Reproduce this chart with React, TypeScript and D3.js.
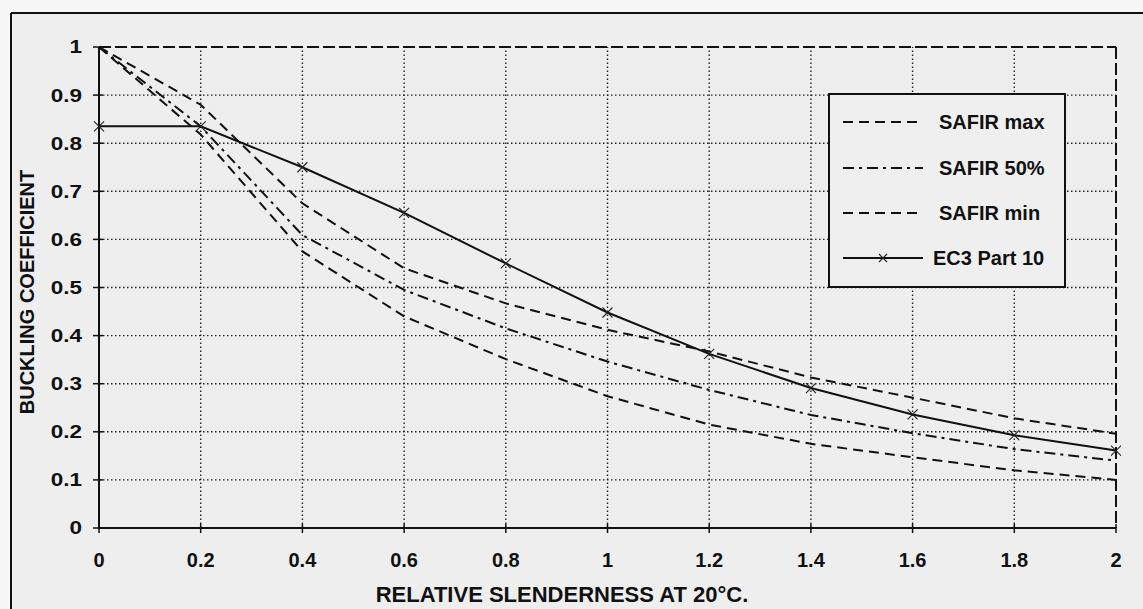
import React from "react";
import * as d3 from "d3";

const slenderness = [0, 0.2, 0.4, 0.6, 0.8, 1.0, 1.2, 1.4, 1.6, 1.8, 2.0];
const safirMax = [1.0, 0.88, 0.675, 0.54, 0.467, 0.412, 0.367, 0.313, 0.271, 0.228, 0.196];
const safir50 = [1.0, 0.835, 0.609, 0.495, 0.415, 0.346, 0.287, 0.235, 0.197, 0.164, 0.14];
const safirMin = [1.0, 0.818, 0.575, 0.44, 0.351, 0.274, 0.215, 0.175, 0.147, 0.12, 0.1];
const ec3 = [0.835, 0.835, 0.75, 0.655, 0.55, 0.448, 0.362, 0.291, 0.236, 0.193, 0.161];
const xTicks = [0, 0.2, 0.4, 0.6, 0.8, 1, 1.2, 1.4, 1.6, 1.8, 2];
const yTicks = [0, 0.1, 0.2, 0.3, 0.4, 0.5, 0.6, 0.7, 0.8, 0.9, 1];
const legendLabels = ["SAFIR max", "SAFIR 50%", "SAFIR min", "EC3 Part 10"];

const W = 1143;
const H = 609;
const FONT = "'Liberation Sans', Arial, sans-serif";

export default function App() {
  const x = d3.scaleLinear().domain([0, 2]).range([99, 1116]);
  const y = d3.scaleLinear().domain([0, 1]).range([528, 47]);

  const line = d3
    .line<number>()
    .x((_, i) => x(slenderness[i]))
    .y((d) => y(d));

  const series = [
    { name: legendLabels[0], data: safirMax, dash: "10,6", marker: false },
    { name: legendLabels[1], data: safir50, dash: "11,5,3,5", marker: false },
    { name: legendLabels[2], data: safirMin, dash: "10,6", marker: false },
    { name: legendLabels[3], data: ec3, dash: "none", marker: true },
  ];

  const lgX = 829;
  const lgY = 94;
  const lgW = 236;
  const lgH = 193;
  const rowY = [122, 168, 213, 258];

  const cross = (cx: number, cy: number, s: number, key: string) => (
    <g key={key}>
      <line x1={cx - s} y1={cy - s} x2={cx + s} y2={cy + s} stroke="#222" strokeWidth={1.1} />
      <line x1={cx - s} y1={cy + s} x2={cx + s} y2={cy - s} stroke="#222" strokeWidth={1.1} />
    </g>
  );

  return (
    <svg
      width={W}
      height={H}
      style={{ position: "absolute", left: 0, top: 0, display: "block" }}
      fontFamily={FONT}
    >
      <rect x={0} y={0} width={W} height={H} fill="#f7f7f7" />
      <rect x={11} y={13} width={W - 11} height={H - 13} fill="#eeeeee" />
      <line x1={11} y1={13} x2={W} y2={13} stroke="#111" strokeWidth={2} />
      <line x1={11} y1={13} x2={11} y2={H} stroke="#111" strokeWidth={2} />

      {/* gridlines */}
      {yTicks.slice(1, -1).map((t) => (
        <line
          key={"gy" + t}
          x1={x(0)}
          x2={x(2)}
          y1={y(t)}
          y2={y(t)}
          stroke="#222"
          strokeWidth={1.4}
          strokeDasharray="1.5,2.5"
        />
      ))}
      {xTicks.slice(1, -1).map((t) => (
        <line
          key={"gx" + t}
          x1={x(t)}
          x2={x(t)}
          y1={y(0)}
          y2={y(1)}
          stroke="#222"
          strokeWidth={1.4}
          strokeDasharray="1.5,2.5"
        />
      ))}

      {/* plot border: top and right dashed */}
      <line x1={x(0)} x2={x(2)} y1={y(1)} y2={y(1)} stroke="#111" strokeWidth={2} strokeDasharray="12,4" />
      <line x1={x(2)} x2={x(2)} y1={y(1)} y2={y(0)} stroke="#111" strokeWidth={2} strokeDasharray="12,4" />

      {/* axes */}
      <line x1={x(0)} x2={x(2)} y1={y(0)} y2={y(0)} stroke="#111" strokeWidth={2} />
      <line x1={x(0)} x2={x(0)} y1={y(0)} y2={y(1)} stroke="#111" strokeWidth={2} />
      {xTicks.map((t) => (
        <line key={"tx" + t} x1={x(t)} x2={x(t)} y1={y(0) - 4} y2={y(0) + 5} stroke="#111" strokeWidth={1.5} />
      ))}
      {yTicks.map((t) => (
        <line key={"ty" + t} x1={x(0) - 6} x2={x(0) + 4} y1={y(t)} y2={y(t)} stroke="#111" strokeWidth={1.5} />
      ))}

      {/* tick labels */}
      {yTicks.map((t) => (
        <text
          key={"ly" + t}
          transform={`translate(82,${y(t)}) scale(1.25,1)`}
          dy="0.36em"
          textAnchor="end"
          fontSize={18}
          fontWeight="bold"
          fill="#111"
        >
          {String(t)}
        </text>
      ))}
      {xTicks.map((t) => (
        <text
          key={"lx" + t}
          x={x(t)}
          y={567}
          textAnchor="middle"
          fontSize={20}
          fontWeight="bold"
          fill="#111"
        >
          {String(t)}
        </text>
      ))}

      {/* axis titles */}
      <text x={562} y={602} textAnchor="middle" fontSize={22} fontWeight="bold" fill="#111">
        RELATIVE SLENDERNESS AT 20°C.
      </text>
      <text
        transform="translate(34,292) rotate(-90)"
        textAnchor="middle"
        fontSize={20}
        fontWeight="bold"
        fill="#111"
      >
        BUCKLING COEFFICIENT
      </text>

      {/* series */}
      {series.map((s) => (
        <path
          key={s.name}
          d={line(s.data) || ""}
          fill="none"
          stroke="#111"
          strokeWidth={2}
          strokeDasharray={s.dash}
        />
      ))}
      {ec3.map((v, i) => cross(x(slenderness[i]), y(v), 5, "m" + i))}

      {/* legend */}
      <rect x={lgX} y={lgY} width={lgW} height={lgH} fill="#efefef" stroke="#111" strokeWidth={2} />
      {series.map((s, i) => (
        <g key={"lg" + i}>
          <line
            x1={843}
            x2={923}
            y1={rowY[i]}
            y2={rowY[i]}
            stroke="#111"
            strokeWidth={2}
            strokeDasharray={s.dash}
          />
          {s.marker && cross(883, rowY[i], 4, "lgm")}
          <text x={i === 3 ? 933 : 939} y={rowY[i]} dy="0.36em" fontSize={20} fill="#111" fontWeight="bold">
            {s.name}
          </text>
        </g>
      ))}
    </svg>
  );
}
